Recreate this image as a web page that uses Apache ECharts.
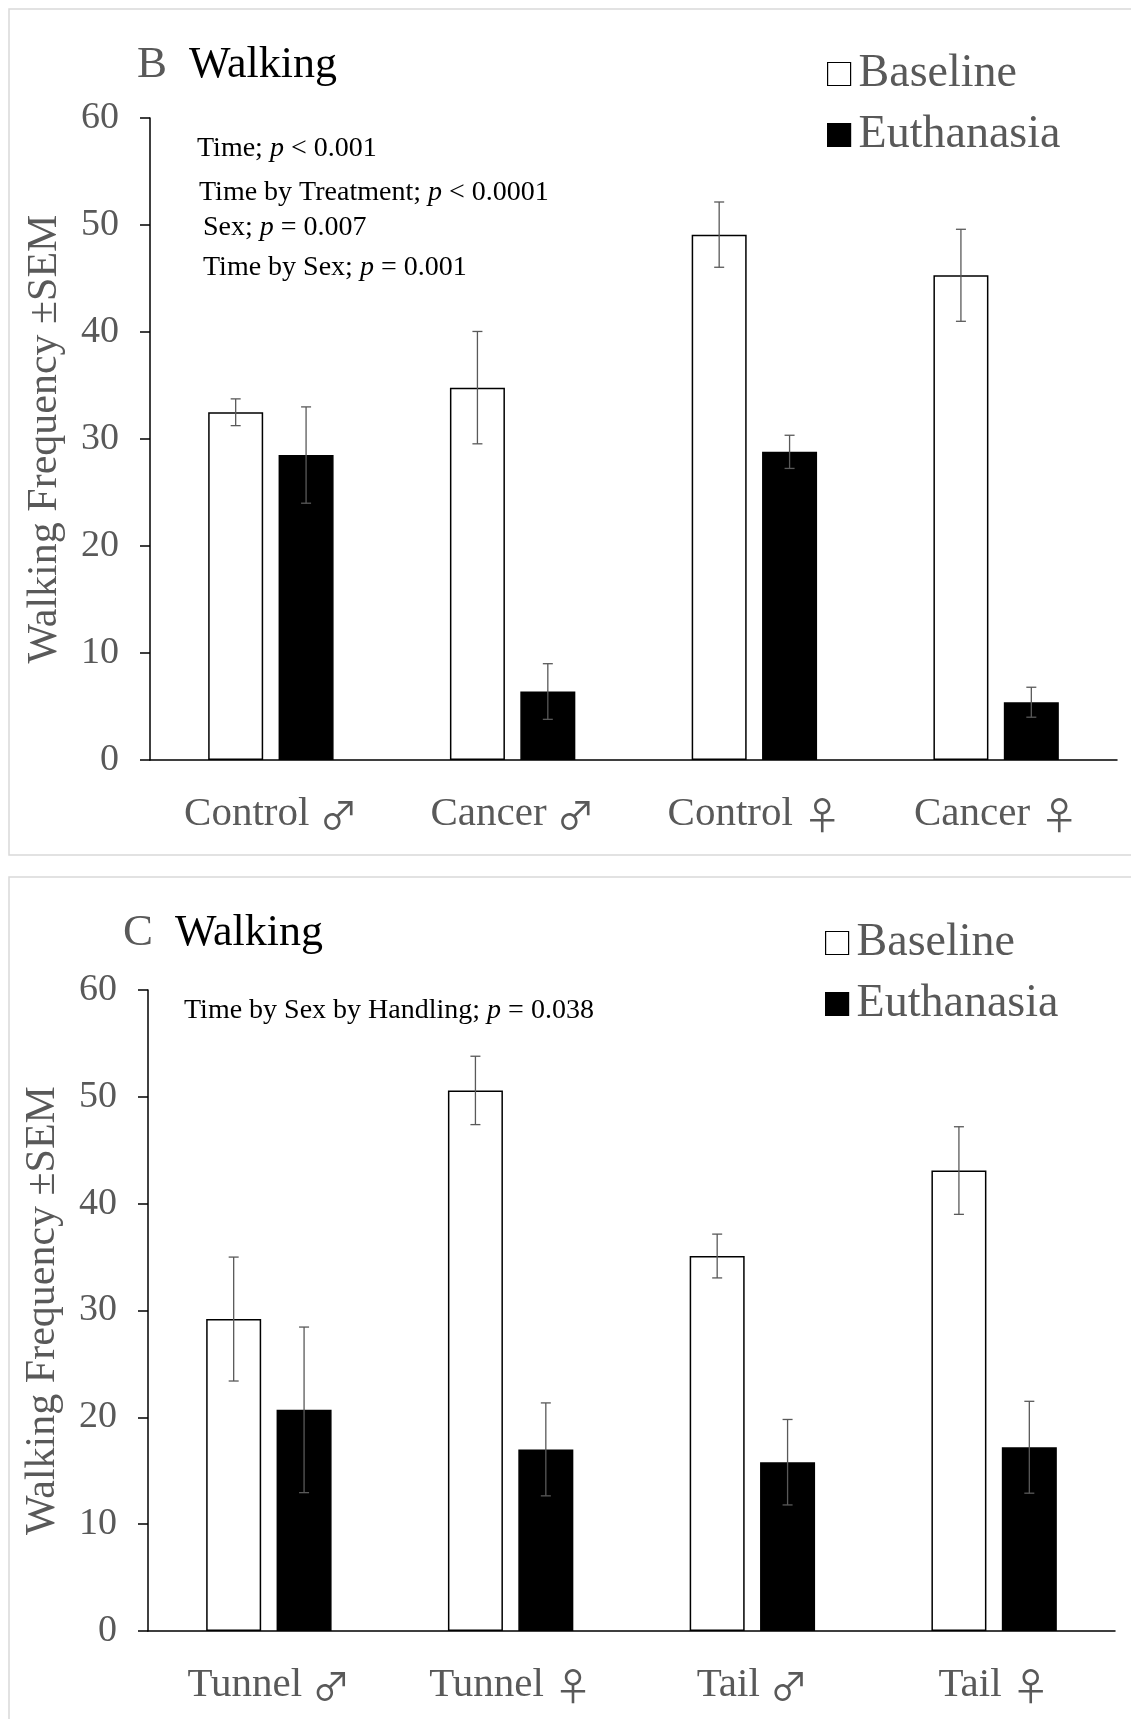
<!DOCTYPE html>
<html>
<head>
<meta charset="utf-8">
<script src="https://cdn.jsdelivr.net/npm/echarts@6/dist/echarts.min.js"></script>
<style>
  html, body { margin: 0; padding: 0; background: #fff; }
  #chart { width: 1131px; height: 1719px; }
</style>
</head>
<body>
<div id="chart"></div>
<script>
// panel B data
const categoriesB = ['Control \u2642', 'Cancer \u2642', 'Control \u2640', 'Cancer \u2640'];
const baselineB = [32.5, 34.8, 49.1, 45.3];
const baselineSemB = [1.25, 5.25, 3.05, 4.3];
const euthanasiaB = [28.5, 6.4, 28.8, 5.4];
const euthanasiaSemB = [4.5, 2.6, 1.55, 1.4];

// panel C data
const categoriesC = ['Tunnel \u2642', 'Tunnel \u2640', 'Tail \u2642', 'Tail \u2640'];
const baselineC = [29.2, 50.6, 35.1, 43.1];
const baselineSemC = [5.8, 3.2, 2.05, 4.1];
const euthanasiaC = [20.7, 17.0, 15.8, 17.2];
const euthanasiaSemC = [7.75, 4.35, 4.0, 4.3];

const yTicks = [0, 10, 20, 30, 40, 50, 60];

const FONT = '"Liberation Serif", "DejaVu Serif", serif';
const GRAY = '#595959';
const BAR_W = 55;
const BAR_GAP = 0.28;
const OFFSET = (BAR_W + BAR_W * BAR_GAP) / 2;

// 误差线数据 [类别序号, 下限, 上限]
function errData(vals, sems) {
  return vals.map((v, i) => [i, v - sems[i], v + sems[i]]);
}

function errSeries(idx, vals, sems, dir) {
  return {
    type: 'custom',
    name: 'err',
    xAxisIndex: idx,
    yAxisIndex: idx,
    z: 10,
    data: errData(vals, sems),
    renderItem: function (params, api) {
      const lo = api.coord([api.value(0), api.value(1)]);
      const hi = api.coord([api.value(0), api.value(2)]);
      const x = lo[0] + dir * OFFSET;
      const c = 5;
      const st = { stroke: GRAY, lineWidth: 1.3 };
      return {
        type: 'group',
        children: [
          { type: 'line', shape: { x1: x, y1: lo[1], x2: x, y2: hi[1] }, style: st },
          { type: 'line', shape: { x1: x - c, y1: lo[1], x2: x + c, y2: lo[1] }, style: st },
          { type: 'line', shape: { x1: x - c, y1: hi[1], x2: x + c, y2: hi[1] }, style: st }
        ]
      };
    }
  };
}

function barSeries(idx, name, vals, fill) {
  return {
    type: 'bar',
    name: name,
    xAxisIndex: idx,
    yAxisIndex: idx,
    barWidth: BAR_W,
    barGap: (BAR_GAP * 100) + '%',
    data: vals,
    itemStyle: { color: fill, borderColor: '#000', borderWidth: 1.5 }
  };
}

function xAxisFor(idx, cats) {
  return {
    type: 'category',
    gridIndex: idx,
    data: cats,
    axisLine: { lineStyle: { color: '#000', width: 1.5 } },
    axisTick: { show: false },
    axisLabel: {
      margin: 34,
      // 性别符号单独用字体，放大
      formatter: function (v) {
        const parts = v.split(' ');
        return '{a|' + parts[0] + ' }{s|' + parts[1] + '}';
      },
      rich: {
        a: { color: GRAY, fontFamily: FONT, fontSize: 41 },
        s: { color: GRAY, fontFamily: '"Noto Sans CJK JP"', fontSize: 38 }
      }
    }
  };
}

function yAxisFor(idx) {
  return {
    type: 'value',
    gridIndex: idx,
    min: yTicks[0],
    max: yTicks[yTicks.length - 1],
    interval: yTicks[1] - yTicks[0],
    name: 'Walking Frequency \u00b1SEM',
    nameLocation: 'middle',
    nameGap: 84,
    nameTextStyle: { color: GRAY, fontFamily: FONT, fontSize: 42 },
    splitLine: { show: false },
    axisLine: { show: true, lineStyle: { color: '#000', width: 1.5 } },
    axisTick: { show: true, length: 10, lineStyle: { color: '#000', width: 1.5 } },
    axisLabel: { color: GRAY, fontFamily: FONT, fontSize: 38, margin: 31 }
  };
}

function legendFor(left, top) {
  return {
    orient: 'vertical',
    left: left,
    top: top,
    icon: 'rect',
    itemWidth: 23,
    itemHeight: 23,
    itemGap: 13,
    data: ['Baseline', 'Euthanasia'],
    textStyle: { color: GRAY, fontFamily: FONT, fontSize: 46, lineHeight: 48, padding: [0, 0, 0, 3] },
    itemStyle: { borderColor: '#000', borderWidth: 1.2 }
  };
}

function note(x, y, pre, post) {
  return {
    type: 'text',
    left: x,
    top: y,
    style: {
      text: '{a|' + pre + '}{i|p}{a|' + post + '}',
      rich: {
        a: { fontFamily: FONT, fontSize: 28, fill: '#000' },
        i: { fontFamily: FONT, fontSize: 28, fontStyle: 'italic', fill: '#000' }
      }
    }
  };
}

function heading(x, y, letter) {
  return {
    type: 'text',
    left: x,
    top: y,
    style: {
      text: '{l|' + letter + '}{w|Walking}',
      rich: {
        l: { fontFamily: FONT, fontSize: 45, fill: GRAY, padding: [0, 22, 0, 0] },
        w: { fontFamily: FONT, fontSize: 44, fill: '#000' }
      }
    }
  };
}

const chart = echarts.init(document.getElementById('chart'));
chart.setOption({
  animation: false,
  backgroundColor: '#fff',
  grid: [
    { left: 150, top: 118, width: 967, height: 642 },
    { left: 148, top: 990, width: 967, height: 641 }
  ],
  xAxis: [xAxisFor(0, categoriesB), xAxisFor(1, categoriesC)],
  yAxis: [yAxisFor(0), yAxisFor(1)],
  legend: [legendFor(822, 45), legendFor(820, 914)],
  graphic: [
    // 面板边框
    { type: 'rect', shape: { x: 9, y: 9, width: 1140, height: 846 }, style: { fill: 'none', stroke: '#d9d9d9', lineWidth: 1.5 }, z: -1 },
    { type: 'rect', shape: { x: 9, y: 877, width: 1140, height: 860 }, style: { fill: 'none', stroke: '#d9d9d9', lineWidth: 1.5 }, z: -1 },
    heading(137, 43, 'B'),
    heading(123, 911, 'C'),
    note(197, 135, 'Time; ', ' < 0.001'),
    note(199, 179, 'Time by Treatment; ', ' < 0.0001'),
    note(203, 214, 'Sex; ', ' = 0.007'),
    note(203, 254, 'Time by Sex; ', ' = 0.001'),
    note(184, 997, 'Time by Sex by Handling; ', ' = 0.038')
  ],
  series: [
    barSeries(0, 'Baseline', baselineB, '#fff'),
    barSeries(0, 'Euthanasia', euthanasiaB, '#000'),
    errSeries(0, baselineB, baselineSemB, -1),
    errSeries(0, euthanasiaB, euthanasiaSemB, 1),
    barSeries(1, 'Baseline', baselineC, '#fff'),
    barSeries(1, 'Euthanasia', euthanasiaC, '#000'),
    errSeries(1, baselineC, baselineSemC, -1),
    errSeries(1, euthanasiaC, euthanasiaSemC, 1)
  ]
});
</script>
</body>
</html>
